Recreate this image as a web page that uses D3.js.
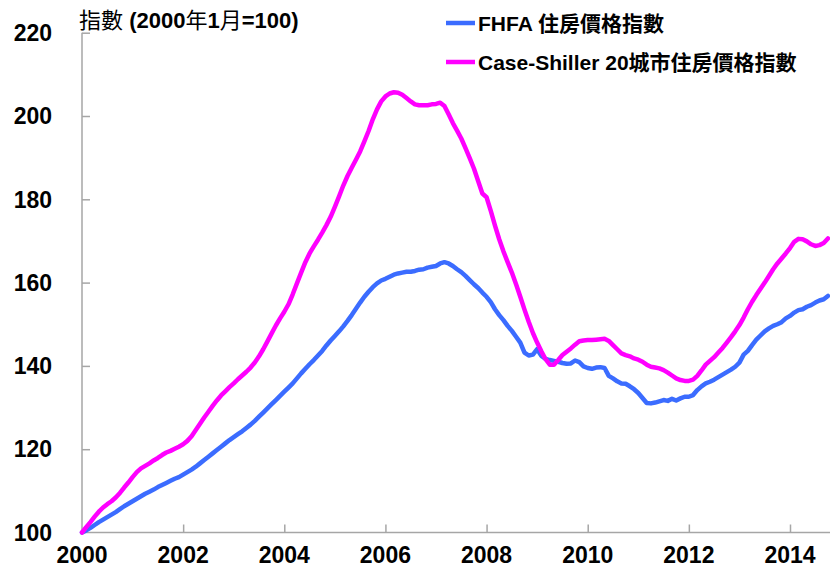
<!DOCTYPE html>
<html><head><meta charset="utf-8">
<script src="https://cdn.jsdelivr.net/npm/d3@7"></script>
<style>
html,body{margin:0;padding:0;background:#fff;}
svg{display:block;font-family:"Liberation Sans",Arial,"Noto Sans CJK TC",sans-serif;}
</style></head><body>
<svg id="chart" width="830" height="581"></svg>
<script>
// Monthly data, Jan 2000 .. Oct 2014
const startYear = 2000;
const fhfa = [
 100.0,100.5,101.1,101.8,102.5,103.1,103.7,104.3,104.9,105.6,106.3,106.9,
 107.5,108.1,108.7,109.3,109.8,110.3,110.9,111.4,111.9,112.4,112.9,113.3,
 113.9,114.5,115.1,115.8,116.6,117.4,118.2,119.0,119.8,120.6,121.4,122.2,
 122.9,123.6,124.3,125.1,125.9,126.8,127.8,128.8,129.8,130.8,131.8,132.8,
 133.8,134.8,135.8,137.0,138.2,139.3,140.4,141.4,142.5,143.6,144.9,146.1,
 147.2,148.3,149.5,150.8,152.2,153.7,155.2,156.6,157.8,158.9,159.8,160.5,
 160.9,161.4,161.9,162.2,162.4,162.6,162.6,162.8,163.1,163.2,163.6,163.8,
 164.0,164.6,164.9,164.6,164.0,163.2,162.5,161.6,160.6,159.6,158.7,157.6,
 156.6,155.3,153.6,152.2,151.0,149.6,148.4,147.0,145.6,143.2,142.5,142.7,
 144.0,142.4,141.7,141.4,141.2,141.0,140.7,140.5,140.6,141.3,140.9,139.9,
 139.5,139.3,139.6,139.7,139.5,137.6,137.0,136.3,135.8,135.7,135.1,134.4,
 133.5,132.3,131.1,131.0,131.2,131.5,131.8,131.6,132.1,131.7,132.2,132.6,
 132.6,133.0,134.2,135.1,135.8,136.2,136.7,137.3,137.9,138.5,139.1,139.8,
 140.8,142.7,143.6,145.0,146.3,147.3,148.3,149.0,149.6,150.0,150.5,151.4,
 152.0,152.8,153.4,153.6,154.2,154.6,155.2,155.7,156.0,156.8
];
const caseShiller = [
 100.0,101.3,102.5,103.8,105.0,106.0,106.8,107.5,108.4,109.5,110.8,112.0,
 113.3,114.5,115.4,116.0,116.6,117.3,117.9,118.6,119.2,119.6,120.1,120.6,
 121.2,122.0,123.1,124.6,126.1,127.6,129.0,130.4,131.7,132.9,133.9,134.9,
 135.8,136.8,137.7,138.6,139.6,140.8,142.3,144.0,145.9,147.8,149.7,151.4,
 153.0,154.8,157.2,159.8,162.4,164.9,167.0,168.7,170.3,172.0,173.8,175.8,
 178.2,180.7,183.3,185.6,187.6,189.5,191.5,193.9,196.4,199.2,201.6,203.5,
 204.7,205.4,205.7,205.6,205.1,204.3,203.5,202.8,202.6,202.6,202.6,202.8,
 202.9,203.2,202.4,200.4,198.3,196.5,194.6,192.3,189.9,187.4,184.4,181.4,
 180.5,177.2,173.7,170.4,167.5,164.9,162.4,159.6,156.6,153.5,150.6,147.9,
 145.6,143.5,141.6,140.3,140.3,141.4,142.6,143.4,144.2,145.1,145.9,146.1,
 146.2,146.2,146.3,146.4,146.5,146.0,145.0,144.0,143.0,142.6,142.3,141.8,
 141.5,141.0,140.3,139.8,139.6,139.4,139.0,138.4,137.7,137.0,136.6,136.4,
 136.4,136.7,137.6,138.9,140.3,141.2,142.1,143.2,144.3,145.6,146.9,148.3,
 149.8,151.6,153.6,155.4,157.0,158.5,160.0,161.6,163.2,164.6,165.8,167.0,
 168.3,169.8,170.5,170.4,169.9,169.2,168.8,169.0,169.5,170.6
];
const xTicks = [2000,2002,2004,2006,2008,2010,2012,2014];
const yTicks = [100,120,140,160,180,200,220];
const seriesNames = ["FHFA 住房價格指數", "Case-Shiller 20城市住房價格指數"];
const seriesColors = ["#3B6CFF", "#FF00FF"];
const yTitleParts = [["指數 ", false], ["(2000", true], ["年", false], ["1", true], ["月", false], ["=100)", true]];

const svg = d3.select("#chart");
const x = d3.scaleLinear().domain([2000, 2014]).range([82, 790]);
const y = d3.scaleLinear().domain([100, 220]).range([532.5, 32.7]);
const axisColor = "#A6A6A6";

// Y axis
const yAxis = svg.append("g").attr("transform", "translate(82,0)")
  .call(d3.axisRight(y).tickValues(yTicks.slice(1)).tickSize(8).tickFormat(""));
yAxis.select(".domain").attr("stroke", axisColor).attr("stroke-width", 1.5).attr("d", `M0,${y(220)}V${y(100)}`);
yAxis.selectAll(".tick line").attr("stroke", axisColor).attr("stroke-width", 1.5);
svg.append("g").selectAll("text").data(yTicks).join("text")
  .attr("x", 52).attr("y", d => y(d)).attr("dy", "0.36em")
  .attr("text-anchor", "end").attr("font-weight", "bold").attr("font-size", 23)
  .attr("fill", "#000").text(d => d);

// X axis
const xAxis = svg.append("g").attr("transform", `translate(0,${y(100)})`)
  .call(d3.axisTop(x).tickValues(xTicks.slice(1)).tickSize(8).tickFormat(""));
xAxis.select(".domain").attr("stroke", axisColor).attr("stroke-width", 1.5).attr("d", `M82,0H830`);
xAxis.selectAll(".tick line").attr("stroke", axisColor).attr("stroke-width", 1.5);
svg.append("g").selectAll("text").data(xTicks).join("text")
  .attr("x", d => x(d)).attr("y", 562.5)
  .attr("text-anchor", "middle").attr("font-weight", "bold").attr("font-size", 23)
  .attr("fill", "#000").text(d => d);

// Title
const t = svg.append("text").attr("x", 79).attr("y", 28).attr("font-size", 22).attr("fill", "#000");
yTitleParts.forEach(([s, b]) => t.append("tspan").attr("font-weight", b ? "bold" : "normal").text(s));

// Lines
const toPts = arr => arr.map((v, i) => [startYear + i / 12, v]);
const line = d3.line().x(d => x(d[0])).y(d => y(d[1]));
[fhfa, caseShiller].forEach((arr, k) => {
  svg.append("path").datum(toPts(arr)).attr("d", line)
    .attr("fill", "none").attr("stroke", seriesColors[k]).attr("stroke-width", 4.5)
    .attr("stroke-linejoin", "round").attr("stroke-linecap", "round");
});

// Legend
const legY = [23, 62];
seriesNames.forEach((name, k) => {
  svg.append("line").attr("x1", 446).attr("x2", 475).attr("y1", legY[k]).attr("y2", legY[k])
    .attr("stroke", seriesColors[k]).attr("stroke-width", 4.5);
  svg.append("text").attr("x", 478).attr("y", legY[k]).attr("dy", "0.36em")
    .attr("font-size", 21).attr("font-weight", "bold").attr("fill", "#000").text(name);
});
</script>
</body></html>
